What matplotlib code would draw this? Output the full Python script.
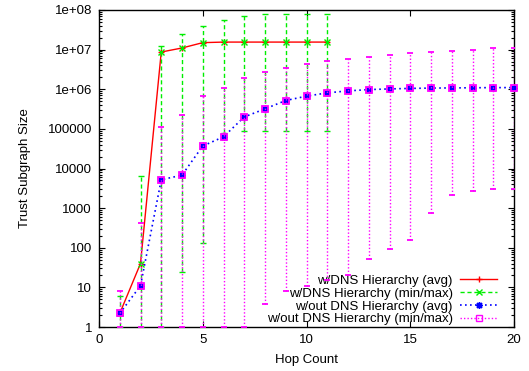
import matplotlib
matplotlib.use("Agg")
import matplotlib.pyplot as plt
from matplotlib.lines import Line2D
from matplotlib.ticker import LogLocator, NullFormatter, FixedLocator, FixedFormatter

# hop counts
hops_dns = [1, 2, 3, 4, 5, 6, 7, 8, 9, 10, 11]
hops_nodns = [1, 2, 3, 4, 5, 6, 7, 8, 9, 10, 11, 12, 13, 14, 15, 16, 17, 18, 19, 20]

# w/DNS hierarchy
dns_avg = [2.2, 40, 8.7e6, 1.1e7, 1.5e7, 1.55e7, 1.55e7, 1.55e7, 1.55e7, 1.55e7, 1.55e7]
dns_min = [1, 1, 1, 25, 135, 8e4, 9e4, 9e4, 9e4, 9e4, 9e4]
dns_max = [6, 6500, 1.2e7, 2.5e7, 4e7, 5.5e7, 7e7, 8e7, 8e7, 8e7, 8e7]

# w/out DNS hierarchy
nodns_avg = [2.2, 11, 5200, 6800, 3.7e4, 6.3e4, 2e5, 3.2e5, 5.2e5, 6.7e5,
             8.1e5, 9.1e5, 9.8e5, 1.02e6, 1.05e6, 1.07e6, 1.08e6, 1.09e6, 1.1e6, 1.1e6]
nodns_min = [1, 1, 1, 1, 1, 1, 1, 3.8, 8, 11, 15, 20, 53, 92, 155, 760, 2100, 2700, 3000, 3000]
nodns_max = [8, 415, 1.1e5, 2.3e5, 6.8e5, 1.07e6, 1.9e6, 2.7e6, 3.5e6, 4.3e6,
             5.1e6, 5.9e6, 6.7e6, 7.5e6, 8.2e6, 8.7e6, 9.5e6, 1.0e7, 1.1e7, 1.1e7]

x_ticks = [0, 5, 10, 15, 20]
y_ticks = [1, 10, 100, 1000, 10000, 100000, 1e6, 1e7, 1e8]
y_tick_labels = ["1", "10", "100", "1000", "10000", "100000", "1e+06", "1e+07", "1e+08"]

labels = ["w/DNS Hierarchy (avg)", "w/DNS Hierarchy (min/max)",
          "w/out DNS Hierarchy (avg)", "w/out DNS Hierarchy (min/max)"]

plt.rcParams['font.family'] = ['Liberation Sans', 'DejaVu Sans']
plt.rcParams['font.size'] = 9.5

fig = plt.figure(figsize=(5.29, 3.71), dpi=100)
ax = fig.add_axes([99 / 529, 1 - 327 / 371, 415 / 529, 317 / 371])

red = "#ff0000"
green = "#00ee00"
blue = "#0000ff"
magenta = "#ff00ff"

# red average line
ax.plot(hops_dns, dns_avg, color=red, lw=1.0, marker="+", ms=5, mew=1.0,
        clip_on=False, zorder=3)

# green min/max error bars
dns_err = [[a - lo for a, lo in zip(dns_avg, dns_min)],
           [hi - a for a, hi in zip(dns_avg, dns_max)]]
eb = ax.errorbar(hops_dns, dns_avg, yerr=dns_err, fmt="x", color=green, ms=5, mew=1.0,
                 ecolor=green, elinewidth=1.0, capsize=2.5, capthick=1.0, zorder=4)
eb[2][0].set_linestyle((0, (3, 2)))

# blue average line
ax.plot(hops_nodns, nodns_avg, color=blue, lw=1.2, ls=(0, (1, 2)), marker=(8, 2, 0),
        ms=5, mew=1.0, clip_on=False, zorder=5)

# magenta min/max error bars
nodns_err = [[a - lo for a, lo in zip(nodns_avg, nodns_min)],
             [hi - a for a, hi in zip(nodns_avg, nodns_max)]]
eb2 = ax.errorbar(hops_nodns, nodns_avg, yerr=nodns_err, fmt="s", color=magenta, ms=5,
                  mfc="none", mew=1.3, ecolor=magenta, elinewidth=1.0, capsize=2.5,
                  capthick=1.0, zorder=6)
eb2[2][0].set_linestyle((0, (1, 1.5)))
eb2[0].set_clip_on(False)

ax.set_xlim(0, 20)
ax.set_yscale("log")
ax.set_ylim(1, 1e8)

ax.xaxis.set_major_locator(FixedLocator(x_ticks))
ax.yaxis.set_major_locator(FixedLocator(y_ticks))
ax.yaxis.set_major_formatter(FixedFormatter(y_tick_labels))
ax.yaxis.set_minor_locator(LogLocator(base=10, subs=range(2, 10), numticks=20))
ax.yaxis.set_minor_formatter(NullFormatter())

ax.tick_params(which="both", direction="in", top=True, right=True, width=0.8)
ax.tick_params(which="major", length=4.5, pad=5)
ax.tick_params(which="minor", length=2.3)
for s in ax.spines.values():
    s.set_linewidth(1.0)

ax.set_xlabel("Hop Count", labelpad=6)
ax.set_ylabel("Trust Subgraph Size", labelpad=12)

handles = [
    Line2D([0], [0], color=red, lw=1.0, marker="+", ms=5),
    Line2D([0], [0], color=green, lw=1.0, ls=(0, (3, 2)), marker="x", ms=5),
    Line2D([0], [0], color=blue, lw=1.2, ls=(0, (1, 2)), marker=(8, 2, 0), ms=5),
    Line2D([0], [0], color=magenta, lw=1.0, ls=(0, (1, 1.5)), marker="s", ms=5, mfc="none"),
]
ax.legend(handles, labels, loc="lower right", bbox_to_anchor=(0.96, 0.005),
          frameon=False, markerfirst=False, handlelength=2.8, handletextpad=0.6,
          labelspacing=0.05, borderpad=0, borderaxespad=0)

fig.savefig("out.png", dpi=100)
